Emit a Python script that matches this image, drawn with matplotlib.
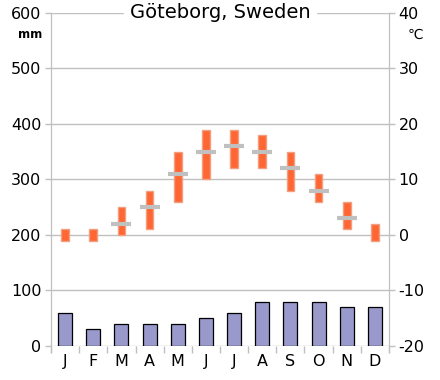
import numpy as np
from matplotlib import pyplot as plt

plt.rcParams['axes.unicode_minus'] = False

months = ['J', 'F', 'M', 'A', 'M', 'J', 'J', 'A', 'S', 'O', 'N', 'D']
precip_mm = [60, 30, 40, 40, 40, 50, 60, 80, 80, 80, 70, 70]
temp_low = [-1, -1, 0, 1, 6, 10, 12, 12, 8, 6, 1, -1]
temp_high = [1, 1, 5, 8, 15, 19, 19, 18, 15, 11, 6, 2]
temp_mean = [np.nan, np.nan, 2, 5, 11, 15, 16, 15, 12, 8, 3, np.nan]

grid_c = '#c0c0c0'
x = np.arange(len(months))

fig = plt.figure(figsize=(4.4, 3.8), dpi=100)
ax = fig.add_axes([0.116, 0.0895, 0.768, 0.8763])
ax2 = ax.twinx()

# precipitation
ax.bar(x, precip_mm, width=0.5, color='#9999cc', edgecolor='black', linewidth=0.9, zorder=3)
ax.set_ylim(0, 600)
ax.set_yticks(range(0, 601, 100))
ax.set_xlim(-0.5, 11.5)
ax.grid(axis='y', color=grid_c, linewidth=1, zorder=0)
ax.set_axisbelow(True)

# temperature range + mean
ax2.bar(x, np.array(temp_high) - np.array(temp_low), bottom=temp_low, width=0.27,
        color='#ff6633', edgecolor='#f0a080', linewidth=1, zorder=3)
ax2.plot(x, temp_mean, linestyle='none', marker='_', markersize=14, mew=3,
         color=grid_c, zorder=4)
ax2.set_ylim(-20, 40)
ax2.set_yticks(range(-20, 41, 10))

for a in (ax, ax2):
    for s in ('top', 'bottom'):
        a.spines[s].set_visible(False)
    lo, hi = a.get_ylim()
    for s in ('left', 'right'):
        a.spines[s].set_color(grid_c)
        a.spines[s].set_bounds(lo - (hi - lo) * 0.018, hi)
    a.tick_params(axis='y', colors=grid_c, labelcolor='black', labelsize=11.5, length=4, width=1, pad=3)

# month labels between boundary ticks
ax.set_xticks(np.arange(-0.5, 12, 1))
ax.set_xticklabels([])
ax.tick_params(axis='x', colors=grid_c, length=5, width=1)
ax.set_xticks(x, minor=True)
ax.set_xticklabels(months, minor=True)
ax.tick_params(axis='x', which='minor', length=0, labelcolor='black', labelsize=11.5, pad=6)

ax.text(-0.027, 0.935, 'mm', transform=ax.transAxes, ha='right', va='center',
        fontsize=8.5, fontweight='bold')
ax2.text(1.055, 0.935, '\u2103', transform=ax2.transAxes, ha='left', va='center', fontsize=10)
ax.text(0.5, 1.0, 'Göteborg, Sweden', transform=ax.transAxes, ha='center', va='center',
        fontsize=14, backgroundcolor='white', zorder=10)

fig.savefig('out.png', dpi=100)
